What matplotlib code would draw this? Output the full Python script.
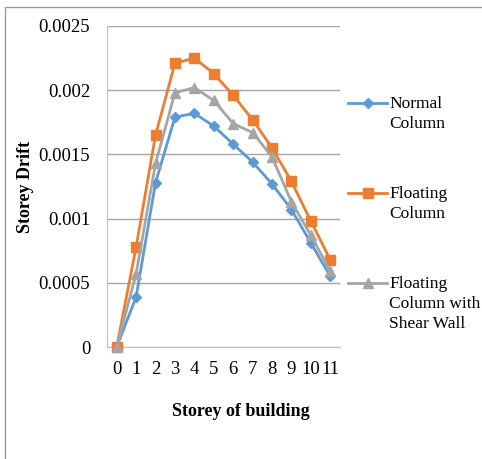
import matplotlib.pyplot as plt
from matplotlib.lines import Line2D
from matplotlib.patches import Rectangle

storeys = list(range(12))
normal_column = [0, 0.00039, 0.00128, 0.00179, 0.00182, 0.00172, 0.00158,
                 0.00144, 0.00127, 0.00107, 0.00081, 0.00055]
floating_column = [0, 0.00078, 0.00165, 0.00221, 0.00225, 0.00213, 0.00196,
                   0.00177, 0.00155, 0.00129, 0.00098, 0.00068]
floating_shear_wall = [0, 0.00057, 0.00143, 0.00198, 0.00202, 0.00192, 0.00174,
                       0.00167, 0.00148, 0.00113, 0.00087, 0.00059]
y_ticks = [0, 0.0005, 0.001, 0.0015, 0.002, 0.0025]
y_tick_labels = ['0', '0.0005', '0.001', '0.0015', '0.002', '0.0025']
series_labels = ['Normal\nColumn', 'Floating\nColumn', 'Floating\nColumn with\nShear Wall']

plt.rcParams['font.family'] = ['Liberation Serif', 'DejaVu Serif']

W, H = 482, 459
fig = plt.figure(figsize=(W / 100, H / 100), dpi=100)
ax = fig.add_axes([107 / W, 1 - 347 / H, 233 / W, 321 / H])

styles = [
    (normal_column, '#5B9BD5', 'D', 5),
    (floating_column, '#ED7D31', 's', 7),
    (floating_shear_wall, '#A5A5A5', '^', 7.5),
]
for vals, col, mk, ms in styles:
    ax.plot(storeys, vals, color=col, lw=2, marker=mk, markersize=ms,
            markeredgecolor=col, markerfacecolor=col, clip_on=False, zorder=3)

ax.set_xlim(-0.5, 11.5)
ax.set_ylim(0, 0.0025)
ax.set_yticks(y_ticks)
ax.set_yticklabels(y_tick_labels)
ax.set_xticks(storeys)
ax.set_xticklabels([str(s) for s in storeys])
ax.tick_params(length=0, labelsize=13.5, colors='#000000')
ax.tick_params(axis='y', pad=12)
ax.tick_params(axis='x', pad=10)
ax.grid(axis='y', color='#A6A6A6', lw=1)
ax.set_axisbelow(True)
for s in ['top', 'right']:
    ax.spines[s].set_visible(False)
ax.spines['left'].set_color('#BFBFBF')
ax.spines['bottom'].set_color('#BFBFBF')

fig.text(241 / W, 1 - 411 / H, 'Storey of building', ha='center', va='center',
         fontsize=13, fontweight='bold')
fig.text(25 / W, 1 - 187 / H, 'Storey Drift', ha='center', va='center',
         rotation=90, fontsize=13, fontweight='bold')

# legend drawn by hand so the marker sits on the first text line
legend_y = [103, 193, 283]
for (vals, col, mk, ms), lab, ly in zip(styles, series_labels, legend_y):
    fy = 1 - ly / H
    fig.add_artist(Line2D([348 / W, 387 / W], [fy, fy], color=col, lw=2))
    fig.add_artist(Line2D([367.5 / W], [fy], marker=mk, markersize=ms,
                          color=col, lw=0))
    fig.text(389 / W, fy + 7 / H, lab, ha='left', va='top', fontsize=12.5,
             linespacing=1.32)

# outer frame
fig.add_artist(Rectangle((5 / W, -0.1), 1.2, 1 - 7 / H + 0.1,
                         transform=fig.transFigure, fill=False,
                         edgecolor='#999999', lw=1))

fig.savefig('out.png', dpi=100)
